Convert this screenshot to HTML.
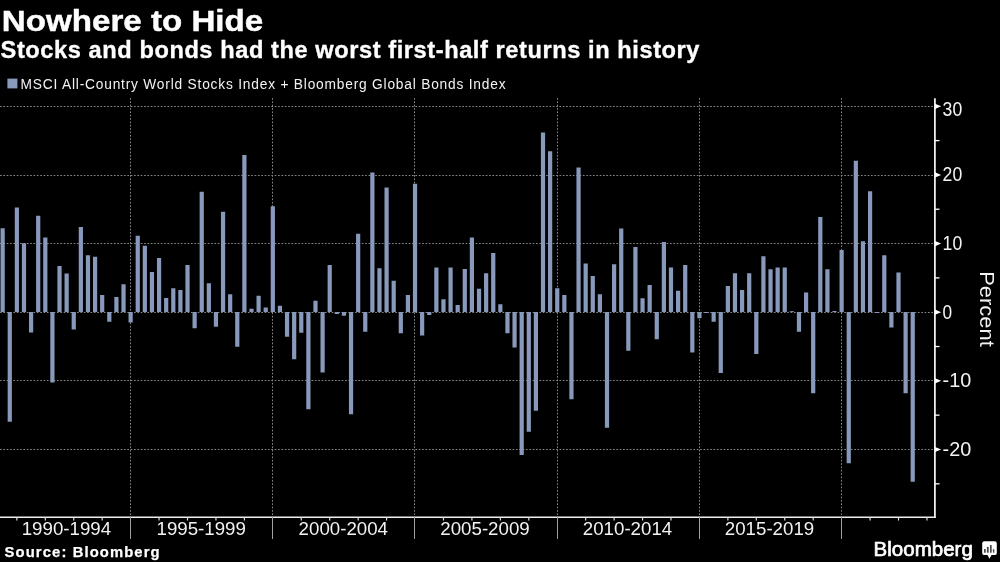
<!DOCTYPE html>
<html><head><meta charset="utf-8">
<style>
html,body{margin:0;padding:0;background:#000;width:1000px;height:562px;overflow:hidden}
svg{display:block;will-change:transform}
text{font-family:"Liberation Sans",sans-serif;fill:#f2f2f2}
</style></head><body>
<svg width="1000" height="562" viewBox="0 0 1000 562">
<rect width="1000" height="562" fill="#000"/>
<text x="1.8" y="31" font-size="30.4" font-weight="bold" textLength="261.4" lengthAdjust="spacingAndGlyphs" style="fill:#fff;stroke:#fff;stroke-width:0.45">Nowhere to Hide</text>
<text transform="translate(0.6,57.6) scale(1.0,1)" x="0" y="0" font-size="23.6" font-weight="bold" letter-spacing="0.58" style="fill:#fff;stroke:#fff;stroke-width:0.35">Stocks and bonds had the worst first-half returns in history</text>
<rect x="7.4" y="78.6" width="10" height="9.8" fill="#8899bb"/>
<text transform="translate(20.6,88.6) scale(0.93,1)" x="0" y="0" font-size="14.8" letter-spacing="0.85" fill="#e8e8e8">MSCI All-Country World Stocks Index + Bloomberg Global Bonds Index</text>
<g stroke="#858585" stroke-width="1" stroke-dasharray="1.7 1.65" fill="none">
<line x1="0" y1="106.50" x2="934" y2="106.50"/><line x1="0" y1="175.50" x2="934" y2="175.50"/><line x1="0" y1="243.50" x2="934" y2="243.50"/><line x1="0" y1="312.50" x2="934" y2="312.50"/><line x1="0" y1="380.50" x2="934" y2="380.50"/><line x1="0" y1="449.50" x2="934" y2="449.50"/><line x1="130.50" y1="98" x2="130.50" y2="517"/><line x1="272.50" y1="98" x2="272.50" y2="517"/><line x1="414.50" y1="98" x2="414.50" y2="517"/><line x1="557.50" y1="98" x2="557.50" y2="517"/><line x1="699.50" y1="98" x2="699.50" y2="517"/><line x1="841.50" y1="98" x2="841.50" y2="517"/>
</g>
<g fill="#8899bb">
<rect x="0.55" y="228.25" width="4.2" height="83.75"/><rect x="7.66" y="312.00" width="4.2" height="109.75"/><rect x="14.77" y="207.50" width="4.2" height="104.50"/><rect x="21.88" y="243.25" width="4.2" height="68.75"/><rect x="28.99" y="312.00" width="4.2" height="20.50"/><rect x="36.10" y="215.75" width="4.2" height="96.25"/><rect x="43.21" y="237.50" width="4.2" height="74.50"/><rect x="50.32" y="312.00" width="4.2" height="70.50"/><rect x="57.43" y="266.00" width="4.2" height="46.00"/><rect x="64.54" y="273.50" width="4.2" height="38.50"/><rect x="71.65" y="312.00" width="4.2" height="17.50"/><rect x="78.76" y="227.00" width="4.2" height="85.00"/><rect x="85.87" y="255.25" width="4.2" height="56.75"/><rect x="92.98" y="256.75" width="4.2" height="55.25"/><rect x="100.09" y="295.00" width="4.2" height="17.00"/><rect x="107.20" y="312.00" width="4.2" height="9.75"/><rect x="114.31" y="297.00" width="4.2" height="15.00"/><rect x="121.42" y="284.25" width="4.2" height="27.75"/><rect x="128.53" y="312.00" width="4.2" height="10.50"/><rect x="135.64" y="235.75" width="4.2" height="76.25"/><rect x="142.75" y="245.75" width="4.2" height="66.25"/><rect x="149.86" y="272.00" width="4.2" height="40.00"/><rect x="156.97" y="258.00" width="4.2" height="54.00"/><rect x="164.08" y="298.00" width="4.2" height="14.00"/><rect x="171.19" y="288.25" width="4.2" height="23.75"/><rect x="178.30" y="290.00" width="4.2" height="22.00"/><rect x="185.41" y="265.00" width="4.2" height="47.00"/><rect x="192.52" y="312.00" width="4.2" height="16.25"/><rect x="199.63" y="191.75" width="4.2" height="120.25"/><rect x="206.74" y="283.25" width="4.2" height="28.75"/><rect x="213.85" y="312.00" width="4.2" height="14.75"/><rect x="220.96" y="211.75" width="4.2" height="100.25"/><rect x="228.07" y="294.25" width="4.2" height="17.75"/><rect x="235.18" y="312.00" width="4.2" height="34.75"/><rect x="242.29" y="155.00" width="4.2" height="157.00"/><rect x="249.40" y="308.75" width="4.2" height="3.25"/><rect x="256.51" y="295.75" width="4.2" height="16.25"/><rect x="263.62" y="307.50" width="4.2" height="4.50"/><rect x="270.73" y="206.25" width="4.2" height="105.75"/><rect x="277.84" y="305.75" width="4.2" height="6.25"/><rect x="284.95" y="312.00" width="4.2" height="24.75"/><rect x="292.06" y="312.00" width="4.2" height="47.25"/><rect x="299.17" y="312.00" width="4.2" height="20.75"/><rect x="306.28" y="312.00" width="4.2" height="97.25"/><rect x="313.39" y="300.75" width="4.2" height="11.25"/><rect x="320.50" y="312.00" width="4.2" height="60.50"/><rect x="327.61" y="265.00" width="4.2" height="47.00"/><rect x="334.72" y="312.00" width="4.2" height="2.00"/><rect x="341.83" y="312.00" width="4.2" height="3.75"/><rect x="348.94" y="312.00" width="4.2" height="102.25"/><rect x="356.05" y="233.75" width="4.2" height="78.25"/><rect x="363.16" y="312.00" width="4.2" height="19.75"/><rect x="370.27" y="172.50" width="4.2" height="139.50"/><rect x="377.38" y="268.25" width="4.2" height="43.75"/><rect x="384.49" y="187.50" width="4.2" height="124.50"/><rect x="391.60" y="280.75" width="4.2" height="31.25"/><rect x="398.71" y="312.00" width="4.2" height="21.25"/><rect x="405.82" y="295.00" width="4.2" height="17.00"/><rect x="412.93" y="183.75" width="4.2" height="128.25"/><rect x="420.04" y="312.00" width="4.2" height="23.50"/><rect x="427.15" y="312.00" width="4.2" height="3.00"/><rect x="434.26" y="267.50" width="4.2" height="44.50"/><rect x="441.37" y="299.25" width="4.2" height="12.75"/><rect x="448.48" y="267.50" width="4.2" height="44.50"/><rect x="455.59" y="305.00" width="4.2" height="7.00"/><rect x="462.70" y="269.00" width="4.2" height="43.00"/><rect x="469.81" y="237.50" width="4.2" height="74.50"/><rect x="476.92" y="288.75" width="4.2" height="23.25"/><rect x="484.03" y="273.25" width="4.2" height="38.75"/><rect x="491.14" y="253.00" width="4.2" height="59.00"/><rect x="498.25" y="304.25" width="4.2" height="7.75"/><rect x="505.36" y="312.00" width="4.2" height="21.25"/><rect x="512.47" y="312.00" width="4.2" height="35.50"/><rect x="519.58" y="312.00" width="4.2" height="143.00"/><rect x="526.69" y="312.00" width="4.2" height="119.75"/><rect x="533.80" y="312.00" width="4.2" height="98.75"/><rect x="540.91" y="132.50" width="4.2" height="179.50"/><rect x="548.02" y="151.25" width="4.2" height="160.75"/><rect x="555.13" y="288.25" width="4.2" height="23.75"/><rect x="562.24" y="295.00" width="4.2" height="17.00"/><rect x="569.35" y="312.00" width="4.2" height="87.25"/><rect x="576.46" y="167.50" width="4.2" height="144.50"/><rect x="583.57" y="263.50" width="4.2" height="48.50"/><rect x="590.68" y="276.00" width="4.2" height="36.00"/><rect x="597.79" y="294.25" width="4.2" height="17.75"/><rect x="604.90" y="312.00" width="4.2" height="115.75"/><rect x="612.01" y="264.25" width="4.2" height="47.75"/><rect x="619.12" y="228.50" width="4.2" height="83.50"/><rect x="626.23" y="312.00" width="4.2" height="38.75"/><rect x="633.34" y="247.00" width="4.2" height="65.00"/><rect x="640.45" y="298.25" width="4.2" height="13.75"/><rect x="647.56" y="285.00" width="4.2" height="27.00"/><rect x="654.67" y="312.00" width="4.2" height="27.25"/><rect x="661.78" y="242.00" width="4.2" height="70.00"/><rect x="668.89" y="267.50" width="4.2" height="44.50"/><rect x="676.00" y="290.75" width="4.2" height="21.25"/><rect x="683.11" y="265.00" width="4.2" height="47.00"/><rect x="690.22" y="312.00" width="4.2" height="40.50"/><rect x="697.33" y="312.00" width="4.2" height="6.25"/><rect x="704.44" y="312.00" width="4.2" height="1.00"/><rect x="711.55" y="312.00" width="4.2" height="9.75"/><rect x="718.66" y="312.00" width="4.2" height="61.00"/><rect x="725.77" y="286.00" width="4.2" height="26.00"/><rect x="732.88" y="273.25" width="4.2" height="38.75"/><rect x="739.99" y="290.00" width="4.2" height="22.00"/><rect x="747.10" y="273.25" width="4.2" height="38.75"/><rect x="754.21" y="312.00" width="4.2" height="42.00"/><rect x="761.32" y="256.25" width="4.2" height="55.75"/><rect x="768.43" y="269.25" width="4.2" height="42.75"/><rect x="775.54" y="267.50" width="4.2" height="44.50"/><rect x="782.65" y="267.50" width="4.2" height="44.50"/><rect x="789.76" y="311.20" width="4.2" height="0.80"/><rect x="796.87" y="312.00" width="4.2" height="19.75"/><rect x="803.98" y="292.50" width="4.2" height="19.50"/><rect x="811.09" y="312.00" width="4.2" height="81.25"/><rect x="818.20" y="217.00" width="4.2" height="95.00"/><rect x="825.31" y="269.25" width="4.2" height="42.75"/><rect x="832.42" y="311.00" width="4.2" height="1.00"/><rect x="839.53" y="250.00" width="4.2" height="62.00"/><rect x="846.64" y="312.00" width="4.2" height="151.25"/><rect x="853.75" y="160.75" width="4.2" height="151.25"/><rect x="860.86" y="241.25" width="4.2" height="70.75"/><rect x="867.97" y="191.25" width="4.2" height="120.75"/><rect x="875.08" y="312.00" width="4.2" height="1.00"/><rect x="882.19" y="255.25" width="4.2" height="56.75"/><rect x="889.30" y="312.00" width="4.2" height="15.50"/><rect x="896.41" y="272.50" width="4.2" height="39.50"/><rect x="903.52" y="312.00" width="4.2" height="81.25"/><rect x="910.63" y="312.00" width="4.2" height="169.75"/>
</g>
<line x1="0" y1="517.2" x2="935.8" y2="517.2" stroke="#eee" stroke-width="1.6"/>
<line x1="934.9" y1="98.2" x2="934.9" y2="518" stroke="#eee" stroke-width="1.8"/>
<g fill="#fff"><path d="M935 103.68 L941.2 106.28 L935 108.88 Z"/><path d="M935 172.32 L941.2 174.92 L935 177.52 Z"/><path d="M935 240.96 L941.2 243.56 L935 246.16 Z"/><path d="M935 309.60 L941.2 312.20 L935 314.80 Z"/><path d="M935 378.24 L941.2 380.84 L935 383.44 Z"/><path d="M935 446.88 L941.2 449.48 L935 452.08 Z"/><line x1="935" y1="140.60" x2="939.5" y2="140.60" stroke="#fff" stroke-width="1.3"/><line x1="935" y1="209.24" x2="939.5" y2="209.24" stroke="#fff" stroke-width="1.3"/><line x1="935" y1="277.88" x2="939.5" y2="277.88" stroke="#fff" stroke-width="1.3"/><line x1="935" y1="346.52" x2="939.5" y2="346.52" stroke="#fff" stroke-width="1.3"/><line x1="935" y1="415.16" x2="939.5" y2="415.16" stroke="#fff" stroke-width="1.3"/><line x1="935" y1="483.80" x2="939.5" y2="483.80" stroke="#fff" stroke-width="1.3"/></g>
<line x1="16.87" y1="517" x2="16.87" y2="520.5" stroke="#ddd" stroke-width="1.2"/><line x1="45.31" y1="517" x2="45.31" y2="520.5" stroke="#ddd" stroke-width="1.2"/><line x1="73.75" y1="517" x2="73.75" y2="520.5" stroke="#ddd" stroke-width="1.2"/><line x1="102.19" y1="517" x2="102.19" y2="520.5" stroke="#ddd" stroke-width="1.2"/><line x1="130.50" y1="517" x2="130.50" y2="539" stroke="#a0a0a0" stroke-width="1"/><line x1="159.07" y1="517" x2="159.07" y2="520.5" stroke="#ddd" stroke-width="1.2"/><line x1="187.51" y1="517" x2="187.51" y2="520.5" stroke="#ddd" stroke-width="1.2"/><line x1="215.95" y1="517" x2="215.95" y2="520.5" stroke="#ddd" stroke-width="1.2"/><line x1="244.39" y1="517" x2="244.39" y2="520.5" stroke="#ddd" stroke-width="1.2"/><line x1="272.50" y1="517" x2="272.50" y2="539" stroke="#a0a0a0" stroke-width="1"/><line x1="301.27" y1="517" x2="301.27" y2="520.5" stroke="#ddd" stroke-width="1.2"/><line x1="329.71" y1="517" x2="329.71" y2="520.5" stroke="#ddd" stroke-width="1.2"/><line x1="358.15" y1="517" x2="358.15" y2="520.5" stroke="#ddd" stroke-width="1.2"/><line x1="386.59" y1="517" x2="386.59" y2="520.5" stroke="#ddd" stroke-width="1.2"/><line x1="414.50" y1="517" x2="414.50" y2="539" stroke="#a0a0a0" stroke-width="1"/><line x1="443.47" y1="517" x2="443.47" y2="520.5" stroke="#ddd" stroke-width="1.2"/><line x1="471.91" y1="517" x2="471.91" y2="520.5" stroke="#ddd" stroke-width="1.2"/><line x1="500.35" y1="517" x2="500.35" y2="520.5" stroke="#ddd" stroke-width="1.2"/><line x1="528.79" y1="517" x2="528.79" y2="520.5" stroke="#ddd" stroke-width="1.2"/><line x1="557.50" y1="517" x2="557.50" y2="539" stroke="#a0a0a0" stroke-width="1"/><line x1="585.67" y1="517" x2="585.67" y2="520.5" stroke="#ddd" stroke-width="1.2"/><line x1="614.11" y1="517" x2="614.11" y2="520.5" stroke="#ddd" stroke-width="1.2"/><line x1="642.55" y1="517" x2="642.55" y2="520.5" stroke="#ddd" stroke-width="1.2"/><line x1="670.99" y1="517" x2="670.99" y2="520.5" stroke="#ddd" stroke-width="1.2"/><line x1="699.50" y1="517" x2="699.50" y2="539" stroke="#a0a0a0" stroke-width="1"/><line x1="727.87" y1="517" x2="727.87" y2="520.5" stroke="#ddd" stroke-width="1.2"/><line x1="756.31" y1="517" x2="756.31" y2="520.5" stroke="#ddd" stroke-width="1.2"/><line x1="784.75" y1="517" x2="784.75" y2="520.5" stroke="#ddd" stroke-width="1.2"/><line x1="813.19" y1="517" x2="813.19" y2="520.5" stroke="#ddd" stroke-width="1.2"/><line x1="841.50" y1="517" x2="841.50" y2="539" stroke="#a0a0a0" stroke-width="1"/><line x1="870.07" y1="517" x2="870.07" y2="520.5" stroke="#ddd" stroke-width="1.2"/><line x1="898.51" y1="517" x2="898.51" y2="520.5" stroke="#ddd" stroke-width="1.2"/><line x1="926.95" y1="517" x2="926.95" y2="520.5" stroke="#ddd" stroke-width="1.2"/>
<g font-size="19.4" fill="#f2f2f2"><text x="942.6" y="116.08" textLength="19.6" lengthAdjust="spacingAndGlyphs">30</text><text x="942.6" y="181.42" textLength="19.6" lengthAdjust="spacingAndGlyphs">20</text><text x="942.6" y="250.06" textLength="19.6" lengthAdjust="spacingAndGlyphs">10</text><text x="942.6" y="318.70" textLength="9.6" lengthAdjust="spacingAndGlyphs">0</text><text x="942.6" y="387.34" textLength="28.6" lengthAdjust="spacingAndGlyphs">-10</text><text x="942.6" y="455.98" textLength="28.6" lengthAdjust="spacingAndGlyphs">-20</text></g>
<g font-size="18.7" fill="#f2f2f2"><text x="66.40" y="535.4" text-anchor="middle">1990-1994</text><text x="201.20" y="535.4" text-anchor="middle">1995-1999</text><text x="343.30" y="535.4" text-anchor="middle">2000-2004</text><text x="485.00" y="535.4" text-anchor="middle">2005-2009</text><text x="627.50" y="535.4" text-anchor="middle">2010-2014</text><text x="769.50" y="535.4" text-anchor="middle">2015-2019</text></g>
<text transform="translate(980,309) rotate(90)" text-anchor="middle" font-size="20.4" textLength="75.5" lengthAdjust="spacingAndGlyphs" fill="#f2f2f2">Percent</text>
<text x="4.6" y="556.8" font-size="14.8" font-weight="bold" textLength="155" lengthAdjust="spacing" style="fill:#fff;stroke:#fff;stroke-width:0.25">Source: Bloomberg</text>
<text x="873.6" y="556.3" font-size="20.6" font-weight="normal" textLength="99.2" lengthAdjust="spacingAndGlyphs" style="fill:#fff;stroke:#fff;stroke-width:0.7">Bloomberg</text>
<g>
<rect x="982.2" y="541.3" width="14.6" height="13.8" rx="2.2" fill="#fff"/>
<path d="M987.3 554.8 L989.5 558.7 L991.7 554.8 Z" fill="#fff"/>
<rect x="984" y="549" width="1.7" height="3.7" fill="#4a4a4a"/>
<rect x="986.9" y="546.9" width="1.8" height="5.8" fill="#4a4a4a"/>
<rect x="990" y="545" width="1.7" height="7.7" fill="#4a4a4a"/>
<rect x="992.9" y="549.2" width="1.4" height="3.5" fill="#4a4a4a"/>
</g>
</svg>
</body></html>
